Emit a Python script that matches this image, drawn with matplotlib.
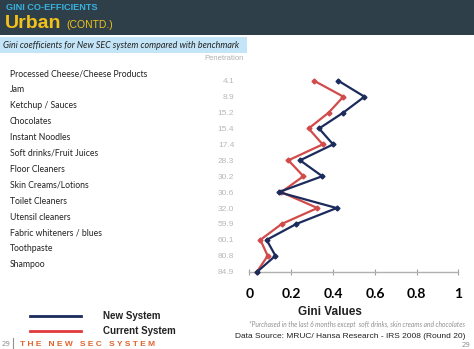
import matplotlib
matplotlib.use('Agg')
from matplotlib import pyplot as plt
from matplotlib.patches import Rectangle
from matplotlib.lines import Line2D

categories = ["Processed Cheese/Cheese Products", "Jam", "Ketchup / Sauces", "Chocolates",
              "Instant Noodles", "Soft drinks/Fruit Juices", "Floor Cleaners",
              "Skin Creams/Lotions", "Toilet Cleaners", "Utensil cleaners",
              "Fabric whiteners / blues", "Toothpaste", "Shampoo"]
penetration = ["4.1", "8.9", "15.2", "15.4", "17.4", "28.3", "30.2", "30.6",
               "32.0", "59.9", "60.1", "80.8", "84.9"]
new_system = [0.425, 0.55, 0.449, 0.333, 0.40, 0.242, 0.348, 0.14, 0.417, 0.224, 0.082, 0.124, 0.037]
current_system = [0.309, 0.449, 0.379, 0.283, 0.35, 0.186, 0.258, 0.152, 0.325, 0.154, 0.052, 0.087, 0.036]
xticks = [0, 0.2, 0.4, 0.6, 0.8, 1]
xticklabels = ["0", "0.2", "0.4", "0.6", "0.8", "1"]

navy = '#1b2b5c'
red = '#d24b4b'
W, H = 474, 349

fig = plt.figure(figsize=(4.74, 3.49), dpi=100)
fig.patch.set_facecolor('white')

def fx(px):
    return px / W

def fy(py):
    return 1 - py / H

# header band
fig.patches.append(Rectangle((0, fy(35)), 1, 35 / H, transform=fig.transFigure,
                             facecolor='#2e3f49', edgecolor='none', zorder=0))
fig.text(fx(6), fy(7), "GINI CO-EFFICIENTS", color='#38b2e0', fontsize=6.6,
         fontweight='bold', family='Liberation Sans', va='center')
fig.text(fx(5), fy(23), "Urban", color='#f2c21b', fontsize=14,
         fontweight='bold', family='Liberation Sans', va='center')
fig.text(fx(66), fy(24.5), "(CONTD.)", color='#f2c21b', fontsize=7.5,
         family='Liberation Sans', va='center')

# subtitle box
fig.patches.append(Rectangle((0, fy(53)), fx(247), 16 / H, transform=fig.transFigure,
                             facecolor='#c3e5f7', edgecolor='none', zorder=0))
fig.text(fx(3), fy(45), "Gini coefficients for New SEC system compared with benchmark",
         color='#222222', fontsize=6.4, style='italic', family='Lato', va='center')
fig.text(fx(244), fy(58), "Penetration", color='#b0b0b0', fontsize=5.5,
         family='Liberation Sans', va='center', ha='right')

# chart
ax = fig.add_axes([fx(249.5), fy(271.7), fx(209), (271.7 - 72.8) / H])
y = list(range(len(categories)))
ax.plot(current_system, y, color=red, lw=1.6, marker='D', ms=2.5, solid_joinstyle='round', zorder=3)
ax.plot(new_system, y, color=navy, lw=1.6, marker='D', ms=2.5, solid_joinstyle='round', zorder=3)
ax.set_xlim(0, 1)
ax.set_ylim(12, -0.5)
ax.set_xticks(xticks)
ax.set_xticklabels(xticklabels, fontsize=10, fontweight='bold', family='Lato')
ax.set_yticks(y)
ax.set_yticklabels(penetration, fontsize=6, color='#b8b8b8', family='Liberation Sans')
ax.tick_params(axis='y', length=0, pad=11)
ax.tick_params(axis='x', direction='inout', length=5, color='#a0a0a0', pad=9)
for s in ['top', 'right', 'left']:
    ax.spines[s].set_visible(False)
ax.spines['bottom'].set_color('#b0b0b0')
ax.spines['bottom'].set_linewidth(1)
ax.patch.set_alpha(0)
for ln in ax.lines:
    ln.set_clip_on(False)

# category labels on the left
for i, c in enumerate(categories):
    fig.text(fx(10), fy(74 + i * 15.9), c, fontsize=6.2, family='Lato',
             color='#222222', va='center')

fig.text(fx(330), fy(312), "Gini Values", fontsize=8.5, fontweight='bold',
         family='Liberation Sans', ha='center', va='center', color='#222222')
fig.text(fx(465), fy(324), "*Purchased in the last 6 months except  soft drinks, skin creams and chocolates",
         fontsize=4.8, style='italic', color='#909090', family='Lato', ha='right', va='center')
fig.text(fx(465), fy(336), "Data Source: MRUC/ Hansa Research - IRS 2008 (Round 20)",
         fontsize=6, color='#222222', family='Liberation Sans', ha='right', va='center')

# legend
fig.lines.append(Line2D([fx(30), fx(81)], [fy(316), fy(316)], transform=fig.transFigure,
                        color=navy, lw=2))
fig.lines.append(Line2D([fx(30), fx(81)], [fy(331), fy(331)], transform=fig.transFigure,
                        color='#e03a3a', lw=2))
fig.text(fx(103), fy(316), "New System", fontsize=7, fontweight='bold',
         family='Liberation Sans', va='center', color='#222222')
fig.text(fx(103), fy(331), "Current System", fontsize=7, fontweight='bold',
         family='Liberation Sans', va='center', color='#222222')

# footer
fig.text(fx(2), fy(344), "29", fontsize=5, color='#909090', va='center')
fig.lines.append(Line2D([fx(13), fx(13)], [fy(338), fy(349)], transform=fig.transFigure,
                        color='#909090', lw=0.8))
fig.text(fx(20), fy(344), "T H E   N E W   S E C   S Y S T E M", fontsize=6,
         fontweight='bold', color='#e0642e', family='Liberation Sans', va='center')
fig.text(fx(470), fy(345), "29", fontsize=5, color='#909090', ha='right', va='center')

fig.savefig('out.png', dpi=100)
